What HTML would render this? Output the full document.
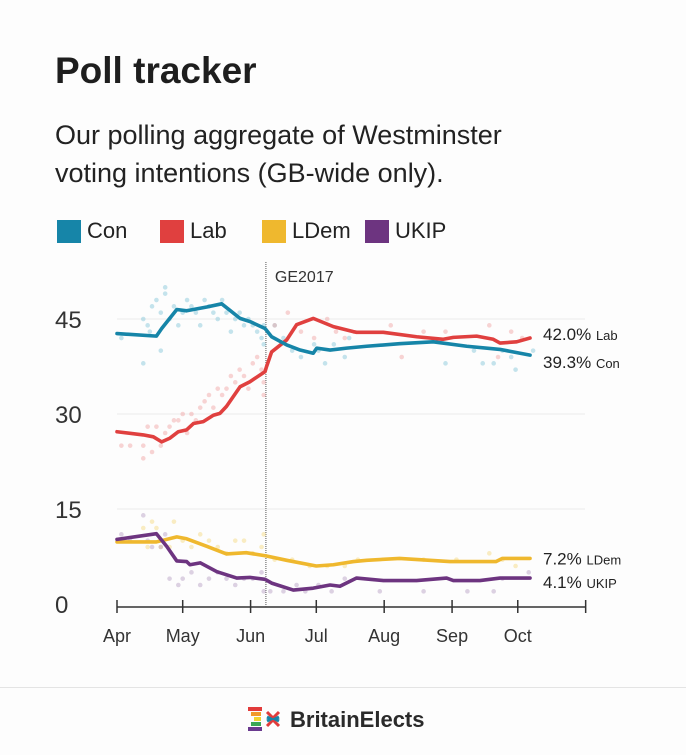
<!DOCTYPE html>
<html><head><meta charset="utf-8">
<style>
html,body{margin:0;padding:0;background:#fdfdfd;}
body{width:686px;height:755px;position:relative;overflow:hidden;font-family:"Liberation Sans",sans-serif;color:#222;}
.abs{position:absolute;white-space:nowrap;}
</style></head><body>
<div class="abs" style="left:55px;top:50px;font-size:37px;font-weight:bold;color:#1e1e1e;">Poll tracker</div>
<div class="abs" style="left:55px;top:116px;font-size:27px;line-height:38px;color:#222;">Our polling aggregate of Westminster<br>voting intentions (GB-wide only).</div>
<div>
<div class="abs" style="left:57px;top:218px;"><span style="display:inline-block;width:24px;height:23px;background:#1685a8;vertical-align:middle;"></span><span style="font-size:22px;margin-left:6px;vertical-align:middle;">Con</span></div>
<div class="abs" style="left:160px;top:218px;"><span style="display:inline-block;width:24px;height:23px;background:#e0403f;vertical-align:middle;"></span><span style="font-size:22px;margin-left:6px;vertical-align:middle;">Lab</span></div>
<div class="abs" style="left:262px;top:218px;"><span style="display:inline-block;width:24px;height:23px;background:#efb82e;vertical-align:middle;"></span><span style="font-size:22px;margin-left:6px;vertical-align:middle;">LDem</span></div>
<div class="abs" style="left:365px;top:218px;"><span style="display:inline-block;width:24px;height:23px;background:#6d3480;vertical-align:middle;"></span><span style="font-size:22px;margin-left:6px;vertical-align:middle;">UKIP</span></div>
</div>
<svg id="chart" width="686" height="755" style="position:absolute;left:0;top:0;" xmlns="http://www.w3.org/2000/svg"></svg>
<div class="abs" style="left:0;top:687px;width:686px;height:1px;background:#e4e4e4;"></div>
<div class="abs" style="left:248px;top:705px;">
<svg width="40" height="30" style="vertical-align:middle">
<rect x="0" y="2" width="14" height="4" fill="#e23b3b"/><rect x="3" y="7" width="10" height="4" fill="#f19a2b"/><rect x="6" y="12" width="7" height="4" fill="#f2d430"/><rect x="3" y="17" width="10" height="4" fill="#3aa655"/><rect x="0" y="22" width="14" height="4" fill="#6a3a8f"/>
<path d="M19 7 L25 13 L31 7 M19 21 L25 15 L31 21" stroke="#e03c3c" stroke-width="3" fill="none"/>
<path d="M19 12 L23 14 L19 16 M31 12 L27 14 L31 16" stroke="#1685a8" stroke-width="3" fill="none"/>
</svg><span style="font-size:22px;font-weight:bold;color:#2a2a2a;vertical-align:middle;margin-left:2px;">BritainElects</span></div>
<script>
const months=["Apr","May","Jun","Jul","Aug","Sep","Oct"];
const monthDays=[0,30,61,91,122,153,183];
const yTicks=[0,15,30,45];
const gridVals=[15,30,45];
const electionDay=68;
const conDays=[0,18,20.4,27.3,31.8,41,47.8,56.2,60.7,67.6,70.6,77.5,83.6,89.6,91.2,97.3,104.9,114,129,144.4,159.7,174.9,188.6];
const conVals=[42.7,42.3,43.5,46.5,46.3,46.9,47.4,45.1,44.6,43.5,42.2,40.9,40.1,39.6,40.4,40.1,40.4,40.7,41.1,41.4,40.7,40.2,39.3];
const labDays=[0,12,16.6,20.4,24.2,28,31.8,34.9,39.4,44,47,50,56.2,60.7,67.6,68.3,70.6,77.5,82,89.6,98.8,107.9,109.4,121.6,136.8,149,153.6,164.2,171.8,174.9,182.5,188.6];
const labVals=[27.2,26.7,26.4,25.6,26.2,27.2,27.5,28.5,28.8,29.8,30.1,31.2,34.3,35.1,36.7,37.5,39.8,41.7,44.1,45.1,43.8,43.0,42.9,42.9,42.2,41.8,42.1,42.3,41.8,41.2,41.4,42.0];
const ldemDays=[0,18,27.3,31.8,41,50,59,68,77.5,91,98.8,108,114,129,152,173,176,188.6];
const ldemVals=[9.8,9.8,10.6,10.3,9.1,7.9,8.1,7.6,6.9,6.0,6.2,6.7,6.9,7.2,6.7,6.7,7.2,7.2];
const ukipDays=[0,18,22.7,27.3,31.8,33.3,38,45.6,54.7,60.7,67.6,70.6,80.5,89.6,97.3,101.8,109.4,121.6,136.8,150.5,153.6,165.7,174.9,188.6];
const ukipVals=[10.2,11.1,9.1,6.8,6.7,6.2,6.5,5.1,4.1,4.2,3.9,3.3,2.2,2.5,3.0,2.8,4.1,3.7,3.7,4.1,3.7,3.7,4.1,4.1];
// individual polls (day, value)
const conPollDays=[2,12,12,14,15,16,18,20,20,22,22,24,26,28,30,32,34,36,38,40,42,44,46,48,50,52,54,56,58,60,62,64,66,67,67,72,76,80,84,90,92,95,99,104,106,150,163,167,172,176,180,182,190];
const conPollVals=[42,38,45,44,43,47,48,40,46,50,49,45,47,44,46,48,47,46,44,48,47,46,45,48,46,43,45,46,44,45,44,43,42,44,41,44,42,40,39,41,40,38,41,39,42,38,40,38,38,40,39,37,40];
const labPollDays=[2,6,12,12,14,16,18,20,22,24,26,28,30,32,34,36,38,40,42,44,46,48,50,52,54,56,58,60,62,64,66,67,67,72,78,84,90,96,100,104,125,130,140,150,170,174,180,185];
const labPollVals=[25,25,25,23,28,24,28,25,27,28,29,29,30,27,30,29,31,32,33,31,34,33,34,36,35,37,36,34,38,39,37,35,33,44,46,43,42,45,43,42,44,39,43,43,44,39,43,42];
const ldemPollDays=[2,12,14,16,18,20,24,26,30,34,38,42,46,50,54,58,62,66,67,72,80,88,96,104,110,140,155,170,176,182];
const ldemPollVals=[10,12,9,13,12,9,9,13,10,9,11,10,9,8,10,10,8,9,11,7,7,6,6,6,7,7,7,8,7,6];
const ukipPollDays=[2,6,12,14,16,20,22,24,28,30,34,38,42,46,50,54,58,62,66,67,70,76,82,86,92,98,104,120,140,160,172,176,188];
const ukipPollVals=[11,10,14,10,9,9,11,4,3,4,5,3,4,5,4,3,4,4,5,2,2,2,3,2,3,2,4,2,2,2,2,4,5];

const svg=document.getElementById('chart');
const NS='http://www.w3.org/2000/svg';
const x0=117, pxPerDay=2.19, y0=604, pxPerPt=6.333;
function xs(d){return x0+d*pxPerDay;}
function ys(v){return y0-v*pxPerPt;}
function mk(tag,attrs){const e=document.createElementNS(NS,tag);for(const k in attrs)e.setAttribute(k,attrs[k]);svg.appendChild(e);return e;}

gridVals.forEach(v=>{
  const g=mk('line',{x1:xs(0),x2:585,y1:ys(v),y2:ys(v),stroke:'#ececec','stroke-width':1});
  
  
});
yTicks.forEach(v=>{
  const t=mk('text',{x:55,y:ys(v)+9,'font-size':24,fill:'#333','font-family':'Liberation Sans, sans-serif'});
  t.textContent=v;
  
  
});
const ax=mk('line',{x1:xs(0),x2:585,y1:607,y2:607,stroke:'#333','stroke-width':1.5});


const tickDays=monthDays.concat([214]);
tickDays.forEach(d=>{
  const t=mk('line',{x1:xs(d),x2:xs(d),y1:600,y2:613,stroke:'#333','stroke-width':1.5});
  
  
});
months.forEach((m,i)=>{
  const t=mk('text',{x:xs(monthDays[i]),y:642,'font-size':18,fill:'#333','text-anchor':'middle','font-family':'Liberation Sans, sans-serif'});
  t.textContent=m;
  
  
});
const el=mk('line',{x1:xs(electionDay),x2:xs(electionDay),y1:262,y2:607,stroke:'#555','stroke-width':1,'stroke-dasharray':'1,1'});


const elt=mk('text',{x:xs(electionDay)+9,y:282,'font-size':16,fill:'#333','font-family':'Liberation Sans, sans-serif'});
elt.textContent='GE2017';



function dots(days,vals,col,name){
  days.forEach((d,i)=>{
    const c=mk('circle',{cx:xs(d),cy:ys(vals[i]),r:2.3,fill:col,opacity:0.45});
    
    
  });
}
dots(conPollDays,conPollVals,'#7fc3d8','con');
dots(labPollDays,labPollVals,'#f0a0a0','lab');
dots(ldemPollDays,ldemPollVals,'#f4d67a','ldem');
dots(ukipPollDays,ukipPollVals,'#b49bc2','ukip');

function line(days,vals,col,name){
  const p=mk('polyline',{points:days.map((d,i)=>xs(d)+','+ys(vals[i])).join(' '),fill:'none',stroke:col,'stroke-width':3.6,'stroke-linejoin':'round','stroke-linecap':'round'});
  
  
}
line(ldemDays,ldemVals,'#efb82e','ldem');
line(ukipDays,ukipVals,'#6d3480','ukip');
line(labDays,labVals,'#e0403f','lab');
line(conDays,conVals,'#1685a8','con');

function endLabel(val,party,yOff,name){
  const t=mk('text',{x:543,y:ys(val)+yOff,'font-size':17,fill:'#222','font-family':'Liberation Sans, sans-serif'});
  t.textContent=val.toFixed(1)+'% ';
  const s=document.createElementNS(NS,'tspan');s.setAttribute('font-size','13');s.textContent=party;t.appendChild(s);
  
  
}
endLabel(labVals[labVals.length-1],'Lab',2,'lab-end-label');
endLabel(conVals[conVals.length-1],'Con',13,'con-end-label');
endLabel(ldemVals[ldemVals.length-1],'LDem',6,'ldem-end-label');
endLabel(ukipVals[ukipVals.length-1],'UKIP',10,'ukip-end-label');
</script>
</body></html>
